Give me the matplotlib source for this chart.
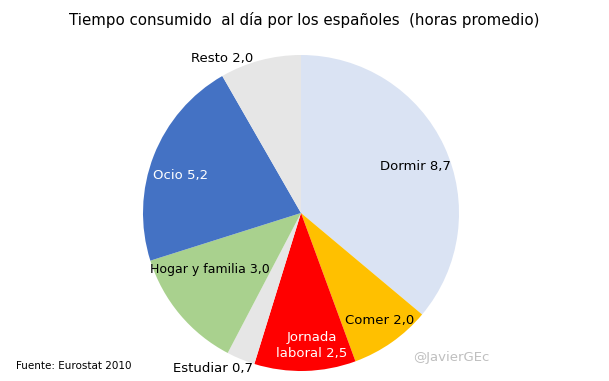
import numpy as np
import matplotlib.pyplot as plt

# Datos: horas promedio al día (Eurostat 2010)
categorias = ["Dormir", "Comer", "Jornada\nlaboral", "Estudiar", "Hogar y familia", "Ocio", "Resto"]
horas = [8.7, 2.0, 2.5, 0.7, 3.0, 5.2, 2.0]
colores = ["#DAE3F3", "#FFC000", "#FF0000", "#E6E6E6", "#A9D18E", "#4472C4", "#E6E6E6"]
color_texto = ["black", "black", "white", "black", "black", "white", "black"]
# distancia radial y ajuste angular de cada etiqueta
dist_etiqueta = [0.78, 0.84, 0.84, 1.13, 0.68, 0.80, 1.10]
ajuste_angulo = [-3, 1, 3, -7, -8, 4, 12]

W, H = 609, 381
fig = plt.figure(figsize=(W / 100, H / 100), dpi=100)

# centro del pastel en (301, 213) px, radio 158 px
cx, cy, r = 301, 213, 158
ax = fig.add_axes([(cx - r) / W, (H - cy - r) / H, 2 * r / W, 2 * r / H])

wedges, _ = ax.pie(horas, colors=colores, startangle=90, counterclock=False,
                   radius=1, wedgeprops=dict(linewidth=0))
ax.set_xlim(-1, 1)
ax.set_ylim(-1, 1)
ax.set_aspect("equal")
ax.axis("off")

for w, cat, val, tc, d, da in zip(wedges, categorias, horas, color_texto,
                                   dist_etiqueta, ajuste_angulo):
    ang = np.deg2rad((w.theta1 + w.theta2) / 2 + da)
    txt = f"{cat} {val:.1f}".replace(".", ",")
    fs = 9 if "Hogar" in cat else 9.5
    ax.text(d * np.cos(ang), d * np.sin(ang), txt, ha="center", va="center",
            fontsize=fs, color=tc, linespacing=1.3)

fig.text(304 / W, 1 - 20 / H, "Tiempo consumido  al día por los españoles  (horas promedio)",
         ha="center", va="center", fontsize=10.8)
fig.text(16 / W, 1 - 366 / H, "Fuente: Eurostat 2010", ha="left", va="center", fontsize=7.5)
fig.text(451 / W, 1 - 358 / H, "@JavierGEc", ha="center", va="center",
         fontsize=9.5, color="#BFBFBF")

plt.savefig("out.png", dpi=100)
